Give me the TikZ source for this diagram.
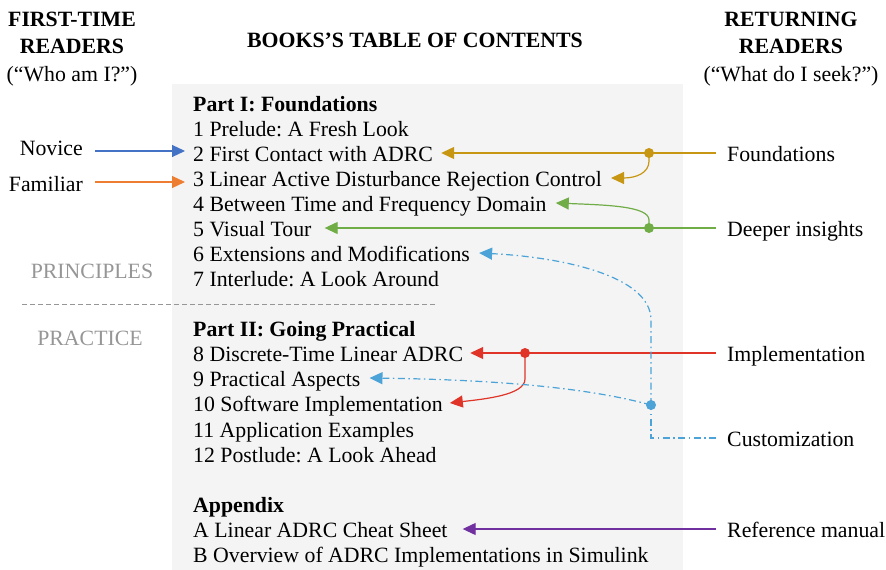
\documentclass[tikz,border=0pt]{standalone}
\usepackage{fontspec}
\setmainfont{Liberation Serif}
\usetikzlibrary{arrows.meta}
\frenchspacing

\definecolor{boxgrey}{RGB}{244,244,244}
\definecolor{sepgrey}{RGB}{150,150,150}
\definecolor{labgrey}{RGB}{150,150,150}
\definecolor{cnov}{RGB}{68,114,196}
\definecolor{cfam}{RGB}{237,125,49}
\definecolor{cfnd}{RGB}{199,150,18}
\definecolor{cdpr}{RGB}{112,173,71}
\definecolor{cimp}{RGB}{224,52,40}
\definecolor{ccus}{RGB}{75,163,215}
\definecolor{cref}{RGB}{112,48,160}

\newcommand\tocfont{\fontsize{21.8pt}{25pt}\selectfont}

\tikzset{
  txt/.style={inner sep=0pt, text height=16pt, text depth=0pt, font=\tocfont},
  row/.style={txt, anchor=base west},
  head/.style={inner sep=0pt, anchor=base, font=\tocfont\bfseries},
  sub/.style={inner sep=0pt, anchor=base, font=\tocfont},
  rlab/.style={txt, anchor=west, inner xsep=11pt},
  llab/.style={txt, anchor=east, inner xsep=12pt},
  side/.style={inner sep=0pt, anchor=base, font=\tocfont, text=labgrey},
  conn/.style={line width=1.2pt, -{Triangle[length=13pt,width=12pt]}},
  plain/.style={line width=1.2pt},
  dashdot/.style={dash pattern=on 7pt off 3.5pt on 1.5pt off 3.5pt},
  junction/.style={circle, fill=#1, inner sep=0pt, minimum size=10pt}
}

\begin{document}
\begin{tikzpicture}[x=1pt, y=-1pt]
\useasboundingbox (0,0) rectangle (886,570);

% contents panel
\fill[boxgrey] (172,84) rectangle (683,570);

% column headings
\node[head] (hl1) at (72,26) {FIRST-TIME};
\node[head] (hl2) at (72,53) {READERS};
\node[sub]  (hl3) at (72,81) {(“Who am I?”)};
\node[head] (ht)  at (415,47) {BOOKS’S TABLE OF CONTENTS};
\node[head] (hr1) at (791,26) {RETURNING};
\node[head] (hr2) at (791,53) {READERS};
\node[sub]  (hr3) at (791,81) {(“What do I seek?”)};

% table of contents
\node[row, font=\tocfont\bfseries] (p1) at (193,111) {Part I: Foundations};
\node[row] (r1)  at (193,136) {1 Prelude: A Fresh Look};
\node[row] (r2)  at (193,161) {2 First Contact with ADRC};
\node[row] (r3)  at (193,186) {3 Linear Active Disturbance Rejection Control};
\node[row] (r4)  at (193,211) {4 Between Time and Frequency Domain};
\node[row] (r5)  at (193,236) {5 Visual Tour};
\node[row] (r6)  at (193,261) {6 Extensions and Modifications};
\node[row] (r7)  at (193,286) {7 Interlude: A Look Around};
\node[row, font=\tocfont\bfseries] (p2) at (193,336) {Part II: Going Practical};
\node[row] (r8)  at (193,361) {8 Discrete-Time Linear ADRC};
\node[row] (r9)  at (193,386) {9 Practical Aspects};
\node[row] (r10) at (193,411) {10 Software Implementation};
\node[row] (r11) at (193,437) {11 Application Examples};
\node[row] (r12) at (193,462) {12 Postlude: A Look Ahead};
\node[row, font=\tocfont\bfseries] (p3) at (193,512) {Appendix};
\node[row] (rA)  at (193,537) {A Linear ADRC Cheat Sheet};
\node[row] (rB)  at (193,562) {B Overview of ADRC Implementations in Simulink};

% principles / practice split
\node[side] (prin) at (92,278) {PRINCIPLES};
\node[side] (prac) at (90,345) {PRACTICE};
\coordinate (sepL) at (22,304);
\coordinate (sepR) at (435,304);
\draw[sepgrey, line width=0.8pt, dash pattern=on 5pt off 3pt] (sepL) -- (sepR);

% first-time readers
\node[llab] (nov) at (95,147) {Novice};
\node[llab] (fam) at (95,183) {Familiar};
\draw[conn, cnov] ([yshift=-4pt]nov.east) -- ([xshift=-8pt,yshift=-4pt]nov.east -| r2.west);
\draw[conn, cfam] ([yshift=1pt]fam.east) -- ([xshift=-8pt,yshift=1pt]fam.east -| r3.west);

% arrow targets next to the entries
\coordinate (t2)  at ([xshift=8pt]r2.east);
\coordinate (t3)  at ([xshift=9pt]r3.east);
\coordinate (t4)  at ([xshift=9pt]r4.east);
\coordinate (t5)  at ([xshift=13pt]r5.east);
\coordinate (t6)  at ([xshift=9pt]r6.east);
\coordinate (t8)  at ([xshift=7pt]r8.east);
\coordinate (t9)  at ([xshift=9pt]r9.east);
\coordinate (t10) at ([xshift=7pt]r10.east);
\coordinate (tA)  at ([xshift=15pt]rA.east);

% returning readers
\node[rlab] (fnd) at (716,153) {Foundations};
\node[rlab] (dpr) at (716,228) {Deeper insights};
\node[rlab] (imp) at (716,353) {Implementation};
\node[rlab] (cus) at (716,438) {Customization};
\node[rlab] (ref) at (716,529) {Reference manual};

% Foundations
\node[junction=cfnd] (jf) at (649,153) {};
\draw[conn, cfnd] (fnd.west) -- (t2);
\draw[conn, cfnd] (jf.center) -- ++(0,8) .. controls +(0,12) and +(25,0) .. (t3);

% Deeper insights
\node[junction=cdpr] (jd) at (649,228) {};
\draw[conn, cdpr] (dpr.west) -- (t5);
\draw[conn, cdpr] (jd.center) -- ++(0,-8) .. controls +(0,-14) and +(50,2) .. (t4);

% Implementation
\node[junction=cimp] (ji) at (525,353) {};
\draw[conn, cimp] (imp.west) -- (t8);
\draw[conn, cimp] (ji.center) -- ++(0,26) .. controls +(0,16) and +(35,-4) .. (t10);

% Customization
\node[junction=ccus] (jc) at (651,405) {};
\draw[plain, ccus, dashdot] (cus.west) -| (jc.center);
\draw[conn, ccus, dashdot] (jc.center) -- ++(0,-85) .. controls +(0,-45) and +(80,4) .. (t6);
\draw[conn, ccus, dashdot] (jc.center) .. controls +(-51,-14) and +(150,2) .. (t9);

% Reference manual
\draw[conn, cref] (ref.west) -- (tA);
\end{tikzpicture}
\end{document}
